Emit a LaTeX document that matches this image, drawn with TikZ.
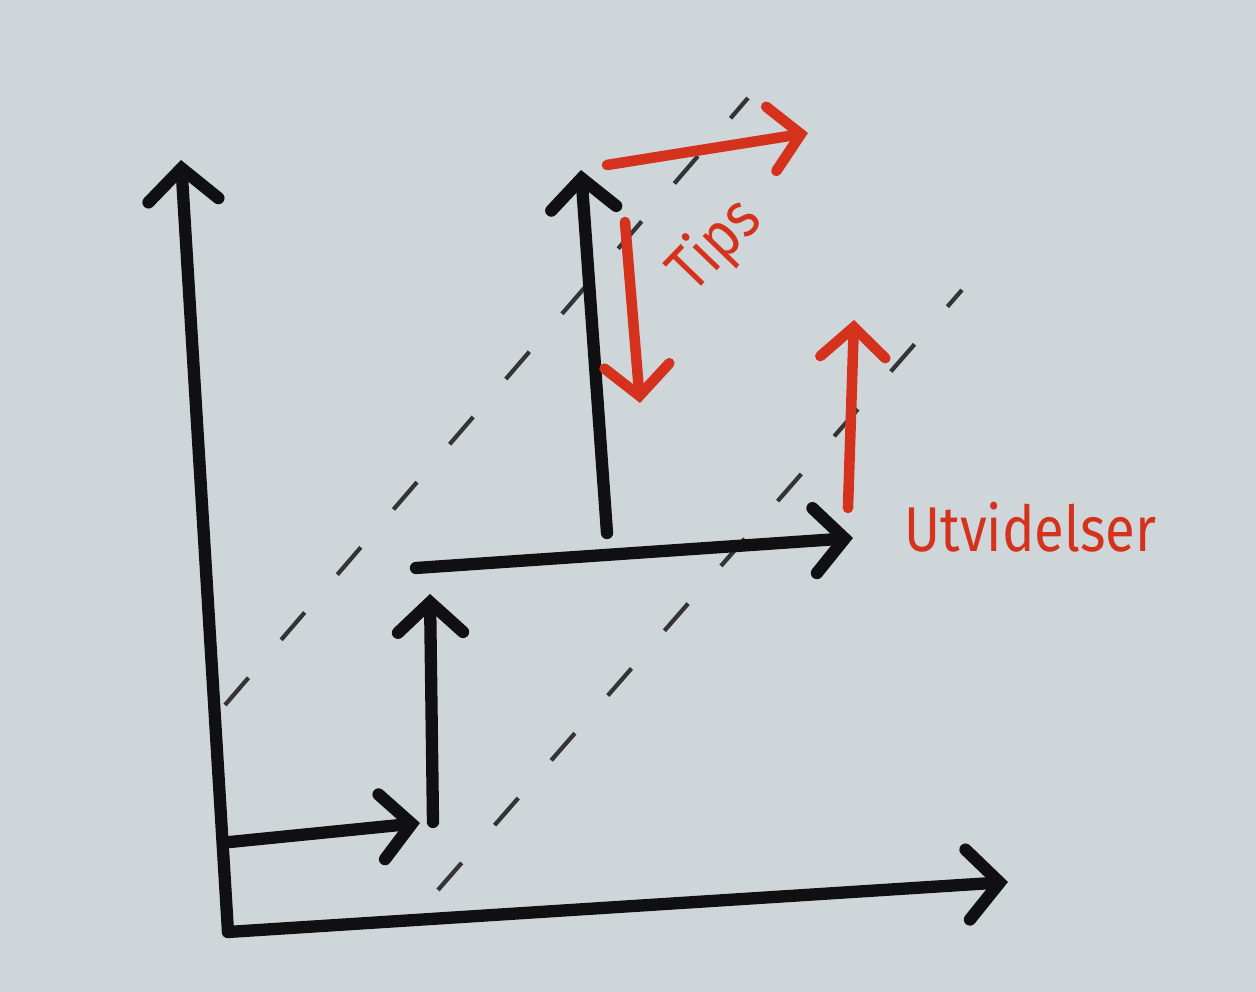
\documentclass[tikz,border=0pt]{standalone}
\usepackage{fontspec}
\newfontfamily\handfont[FakeStretch=0.86]{Fira Sans}
\usetikzlibrary{arrows.meta}
\definecolor{PaperGrey}{RGB}{207,214,217}
\definecolor{InkBlack}{RGB}{16,16,18}
\definecolor{MarkerRed}{RGB}{212,50,28}
\tikzset{
  inkline/.style={draw=InkBlack,line width=3.5pt,line cap=round,line join=round},
  axis/.style={inkline,-{Straight Barb[length=3.2mm,width=7mm,line cap=round]}},
  stepline/.style={inkline,-{Straight Barb[length=3mm,width=6.5mm,line cap=round]}},
  guideline/.style={draw=InkBlack!85,line width=1.2pt,dash pattern=on 3.6mm off 5mm},
  tipline/.style={draw=MarkerRed,line width=3pt,line cap=round,line join=round,
    -{Straight Barb[length=3mm,width=6.5mm,line cap=round]}},
  redlabel/.style={text=MarkerRed,font=\handfont\fontsize{18}{20}\selectfont,inner sep=0pt}
}
\begin{document}
\begin{tikzpicture}[x=0.01cm,y=-0.01cm]
  \fill[PaperGrey] (0,0) rectangle (1256,992);
  \useasboundingbox (0,0) rectangle (1256,992);
  % axes
  \coordinate (origin) at (228,932);
  \coordinate (ytop) at (181,160);
  \coordinate (xend) at (1008,882);
  \draw[axis] (origin) -- (ytop);
  \draw[axis] (origin) -- (xend);
  % dashed guides
  \coordinate (g1a) at (225,705);
  \coordinate (g1b) at (748,98);
  \coordinate (g2a) at (438,890);
  \coordinate (g2b) at (962,290);
  \draw[guideline] (g1a) -- (g1b);
  \draw[guideline] (g2a) -- (g2b);
  % staircase
  \coordinate (s1a) at (230,842);
  \coordinate (s1b) at (420,823);
  \coordinate (s2a) at (433,822);
  \coordinate (s2b) at (430,594);
  \coordinate (s3a) at (416,568);
  \coordinate (s3b) at (853,538);
  \coordinate (s4a) at (607,533);
  \coordinate (s4b) at (581,170);
  \draw[stepline] (s1a) -- (s1b);
  \draw[stepline] (s2a) -- (s2b);
  \draw[stepline] (s3a) -- (s3b);
  \draw[stepline] (s4a) -- (s4b);
  % red arrows
  \coordinate (r1a) at (607,165);
  \coordinate (r1b) at (808,133);
  \coordinate (r2a) at (625,222);
  \coordinate (r2b) at (640,403);
  \coordinate (r3a) at (848,508);
  \coordinate (r3b) at (854,320);
  \draw[tipline] (r1a) -- (r1b);
  \draw[tipline] (r2a) -- (r2b);
  \draw[tipline] (r3a) -- (r3b);
  % labels
  \node[redlabel,rotate=46] (tips) at (716,246) {Tips};
  \node[redlabel,anchor=base west] (utvid) at (904,552) {Utvidelser};
\end{tikzpicture}
\end{document}
